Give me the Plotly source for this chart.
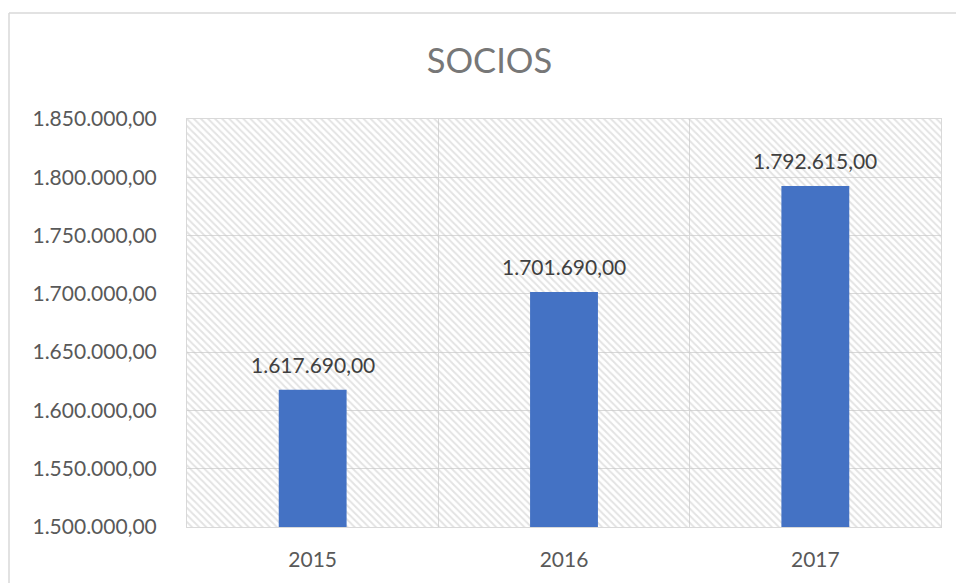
import plotly.graph_objects as go

# Membership totals per year
years = ["2015", "2016", "2017"]
socios = [1617690.00, 1701690.00, 1792615.00]

# Value axis
y_min = 1500000
y_max = 1850000
y_step = 50000

BAR_COLOR = "#4472C4"
GRID = "#D9D9D9"
FONT = "Lato"
TICK_SIZE = 21


def es_number(v):
    """Format with '.' thousands and ',' decimals."""
    return f"{v:,.2f}".replace(",", "_").replace(".", ",").replace("_", ".")


fig = go.Figure()

# Diagonal hatching behind the data, one full-width band per category
fig.add_trace(go.Bar(
    x=years,
    y=[y_max - y_min] * len(years),
    base=[y_min] * len(years),
    width=1.0,
    marker=dict(
        color="rgba(0,0,0,0)",
        line=dict(width=0),
        pattern=dict(shape="\\", fgcolor="#C8C8C8", bgcolor="rgba(0,0,0,0)",
                     size=5, solidity=0.4),
    ),
    hoverinfo="skip",
    showlegend=False,
))

# Yearly totals
fig.add_trace(go.Bar(
    x=years,
    y=[v - y_min for v in socios],
    base=[y_min] * len(years),
    customdata=socios,
    width=0.27,
    marker=dict(color=BAR_COLOR, line=dict(width=0)),
    hovertemplate="%{x}: %{customdata:,.2f}<extra></extra>",
    showlegend=False,
))

# Value labels above each bar (category position by index)
for i, v in enumerate(socios):
    fig.add_annotation(
        x=i, y=v, xref="x", yref="y",
        text=es_number(v),
        showarrow=False, yanchor="middle", yshift=25,
        font=dict(family=FONT, size=TICK_SIZE, color="#404040"),
    )

fig.update_layout(
    width=956,
    height=583,
    barmode="overlay",
    separators=",.",
    paper_bgcolor="white",
    plot_bgcolor="white",
    margin=dict(l=187, r=15, t=119, b=56),
    font=dict(family=FONT, color="#595959"),
    title=dict(
        text="SOCIOS",
        x=0.512, xref="container", xanchor="center",
        y=1 - 61 / 583, yref="container", yanchor="middle",
        font=dict(family=FONT, size=34.5, color="#777777"),
    ),
    xaxis=dict(
        type="category",
        tickson="boundaries",
        showgrid=True,
        gridcolor=GRID,
        gridwidth=1,
        showline=True,
        linecolor=GRID,
        linewidth=1,
        mirror=True,
        ticks="",
        ticklabelstandoff=14,
        tickfont=dict(family=FONT, size=TICK_SIZE, color="#595959"),
        range=[-0.5, 2.5],
    ),
    yaxis=dict(
        range=[y_min, y_max],
        dtick=y_step,
        tick0=y_min,
        tickformat=",.2f",
        showgrid=True,
        gridcolor=GRID,
        gridwidth=1,
        showline=True,
        linecolor=GRID,
        linewidth=1,
        mirror=True,
        zeroline=False,
        ticks="outside",
        ticklen=25,
        tickcolor="rgba(0,0,0,0)",
        tickfont=dict(family=FONT, size=TICK_SIZE, color="#595959"),
    ),
    shapes=[
        # outer chart frame (left and top edges inside the view)
        dict(type="line", xref="paper", yref="paper",
             x0=(9 - 187) / 754, x1=1.05, y0=(527 - 13) / 408, y1=(527 - 13) / 408,
             line=dict(color="#D9D9D9", width=1.5)),
        dict(type="line", xref="paper", yref="paper",
             x0=(9 - 187) / 754, x1=(9 - 187) / 754, y0=(527 - 13) / 408, y1=-0.2,
             line=dict(color="#D9D9D9", width=1.5)),
    ],
)

fig.write_html("out.html")
